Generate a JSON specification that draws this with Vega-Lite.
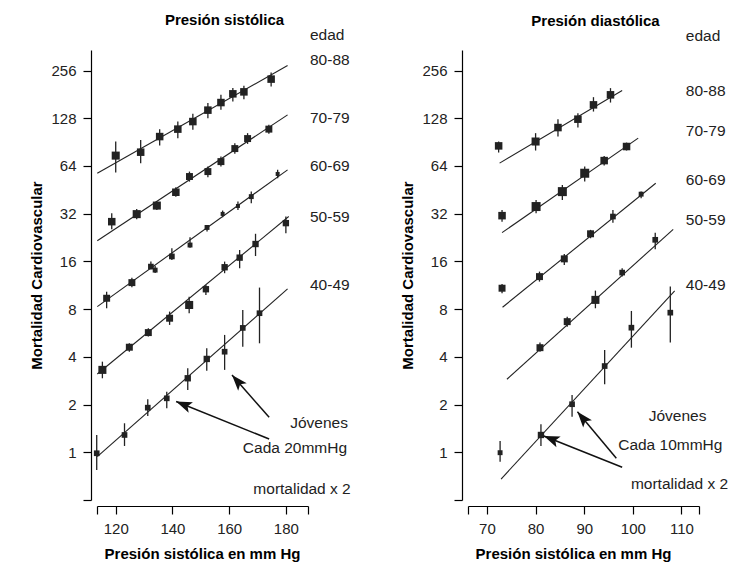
{
  "$schema": "https://vega.github.io/schema/vega-lite/v6.json",
  "padding": {"left": 29, "top": 12, "right": 5, "bottom": 5},
  "bounds": "flush",
  "spacing": 160,
  "background": "white",
  "config": {
    "view": {"stroke": null},
    "font": "Liberation Sans",
    "axis": {
      "grid": false,
      "domainColor": "#000",
      "domainWidth": 1.2,
      "tickColor": "#000",
      "tickWidth": 1.2,
      "tickSize": 8,
      "labelFont": "Liberation Sans",
      "labelFontSize": 15,
      "labelColor": "#222",
      "labelPadding": 7,
      "labelFlush": false,
      "labelOverlap": false,
      "titleFont": "Liberation Sans",
      "titleFontSize": 15,
      "titleFontWeight": "bold",
      "titleColor": "#000"
    },
    "title": {"font": "Liberation Sans", "fontSize": 15, "fontWeight": "bold", "color": "#000"}
  },
  "datasets": {
    "puntos": [
      {"panel": "sis", "edad": "80-88", "x": 120.0, "y": 74.4, "lo": 58.2, "hi": 91.3, "peso": 4},
      {"panel": "sis", "edad": "80-88", "x": 128.8, "y": 78.2, "lo": 66.7, "hi": 93.5, "peso": 3.5},
      {"panel": "sis", "edad": "80-88", "x": 135.5, "y": 98.1, "lo": 86.1, "hi": 109.3, "peso": 3.5},
      {"panel": "sis", "edad": "80-88", "x": 141.9, "y": 109.3, "lo": 95.9, "hi": 122, "peso": 3.5},
      {"panel": "sis", "edad": "80-88", "x": 147.2, "y": 122, "lo": 108.2, "hi": 136.5, "peso": 3.5},
      {"panel": "sis", "edad": "80-88", "x": 152.5, "y": 144, "lo": 128.2, "hi": 159.5, "peso": 3.5},
      {"panel": "sis", "edad": "80-88", "x": 157.1, "y": 160.8, "lo": 144.6, "hi": 179.9, "peso": 3.5},
      {"panel": "sis", "edad": "80-88", "x": 161.3, "y": 182.5, "lo": 163.2, "hi": 198.3, "peso": 3.5},
      {"panel": "sis", "edad": "80-88", "x": 165.2, "y": 187.8, "lo": 169, "hi": 205, "peso": 3.5},
      {"panel": "sis", "edad": "80-88", "x": 174.8, "y": 226, "lo": 202.9, "hi": 248.7, "peso": 3.5},
      {"panel": "sis", "edad": "70-79", "x": 118.6, "y": 28.5, "lo": 25.5, "hi": 32.2, "peso": 3.5},
      {"panel": "sis", "edad": "70-79", "x": 127.4, "y": 31.8, "lo": 29.5, "hi": 34.2, "peso": 4},
      {"panel": "sis", "edad": "70-79", "x": 134.5, "y": 36.0, "lo": 33.8, "hi": 38.2, "peso": 4},
      {"panel": "sis", "edad": "70-79", "x": 141.2, "y": 43.7, "lo": 41.0, "hi": 47.0, "peso": 3.5},
      {"panel": "sis", "edad": "70-79", "x": 146.0, "y": 54.9, "lo": 51.0, "hi": 59.0, "peso": 3},
      {"panel": "sis", "edad": "70-79", "x": 152.5, "y": 59.0, "lo": 54.4, "hi": 63.4, "peso": 3},
      {"panel": "sis", "edad": "70-79", "x": 157.1, "y": 68.2, "lo": 63.4, "hi": 73.4, "peso": 3},
      {"panel": "sis", "edad": "70-79", "x": 162.0, "y": 82.4, "lo": 76.3, "hi": 89.1, "peso": 3},
      {"panel": "sis", "edad": "70-79", "x": 166.5, "y": 95.3, "lo": 88.2, "hi": 103.1, "peso": 3},
      {"panel": "sis", "edad": "70-79", "x": 174.0, "y": 109.3, "lo": 102.1, "hi": 116.3, "peso": 3},
      {"panel": "sis", "edad": "60-69", "x": 116.8, "y": 9.37, "lo": 8.1, "hi": 10.3, "peso": 3},
      {"panel": "sis", "edad": "60-69", "x": 125.7, "y": 11.76, "lo": 11.0, "hi": 12.6, "peso": 3},
      {"panel": "sis", "edad": "60-69", "x": 132.4, "y": 14.84, "lo": 14.3, "hi": 15.96, "peso": 2},
      {"panel": "sis", "edad": "60-69", "x": 133.9, "y": 14.1, "lo": 13.5, "hi": 15.0, "peso": 1.5},
      {"panel": "sis", "edad": "60-69", "x": 139.8, "y": 17.2, "lo": 16.35, "hi": 19.4, "peso": 2},
      {"panel": "sis", "edad": "60-69", "x": 146.2, "y": 20.3, "lo": 19.5, "hi": 22.7, "peso": 1.5},
      {"panel": "sis", "edad": "60-69", "x": 152.2, "y": 26.2, "lo": 24.7, "hi": 27.2, "peso": 1.5},
      {"panel": "sis", "edad": "60-69", "x": 157.7, "y": 31.9, "lo": 30.4, "hi": 33.5, "peso": 1},
      {"panel": "sis", "edad": "60-69", "x": 163.1, "y": 35.8, "lo": 33.8, "hi": 38.2, "peso": 1},
      {"panel": "sis", "edad": "60-69", "x": 167.8, "y": 41.0, "lo": 37.3, "hi": 44.1, "peso": 1.5},
      {"panel": "sis", "edad": "60-69", "x": 177.1, "y": 57.0, "lo": 53.6, "hi": 60.5, "peso": 1},
      {"panel": "sis", "edad": "50-59", "x": 115.3, "y": 3.31, "lo": 2.93, "hi": 3.73, "peso": 4},
      {"panel": "sis", "edad": "50-59", "x": 124.8, "y": 4.60, "lo": 4.31, "hi": 4.87, "peso": 3},
      {"panel": "sis", "edad": "50-59", "x": 131.5, "y": 5.69, "lo": 5.37, "hi": 6.06, "peso": 3},
      {"panel": "sis", "edad": "50-59", "x": 139.0, "y": 7.01, "lo": 6.36, "hi": 7.72, "peso": 3},
      {"panel": "sis", "edad": "50-59", "x": 145.9, "y": 8.50, "lo": 7.54, "hi": 9.59, "peso": 4},
      {"panel": "sis", "edad": "50-59", "x": 151.8, "y": 10.68, "lo": 9.84, "hi": 11.37, "peso": 2.5},
      {"panel": "sis", "edad": "50-59", "x": 158.4, "y": 14.7, "lo": 13.48, "hi": 15.96, "peso": 2.5},
      {"panel": "sis", "edad": "50-59", "x": 163.7, "y": 16.9, "lo": 14.5, "hi": 18.9, "peso": 2.5},
      {"panel": "sis", "edad": "50-59", "x": 169.3, "y": 20.6, "lo": 17.3, "hi": 23.9, "peso": 2.5},
      {"panel": "sis", "edad": "50-59", "x": 180.0, "y": 27.9, "lo": 24.1, "hi": 30.7, "peso": 2.5},
      {"panel": "sis", "edad": "40-49", "x": 113.3, "y": 0.986, "lo": 0.773, "hi": 1.286, "peso": 2},
      {"panel": "sis", "edad": "40-49", "x": 123.1, "y": 1.286, "lo": 1.096, "hi": 1.524, "peso": 2},
      {"panel": "sis", "edad": "40-49", "x": 131.3, "y": 1.912, "lo": 1.695, "hi": 2.16, "peso": 2},
      {"panel": "sis", "edad": "40-49", "x": 138.0, "y": 2.19, "lo": 1.895, "hi": 2.41, "peso": 2},
      {"panel": "sis", "edad": "40-49", "x": 145.4, "y": 2.93, "lo": 2.47, "hi": 3.39, "peso": 2.5},
      {"panel": "sis", "edad": "40-49", "x": 152.1, "y": 3.88, "lo": 3.27, "hi": 4.53, "peso": 2.5},
      {"panel": "sis", "edad": "40-49", "x": 158.4, "y": 4.31, "lo": 3.31, "hi": 5.50, "peso": 2},
      {"panel": "sis", "edad": "40-49", "x": 164.8, "y": 6.09, "lo": 4.64, "hi": 7.91, "peso": 2},
      {"panel": "sis", "edad": "40-49", "x": 170.7, "y": 7.54, "lo": 4.87, "hi": 10.94, "peso": 2},
      {"panel": "dia", "edad": "80-88", "x": 72.4, "y": 85.7, "lo": 77.8, "hi": 91.3, "peso": 3.5},
      {"panel": "dia", "edad": "80-88", "x": 80.0, "y": 91.3, "lo": 80.1, "hi": 103.1, "peso": 4},
      {"panel": "dia", "edad": "80-88", "x": 84.6, "y": 111.8, "lo": 98.1, "hi": 126.3, "peso": 3.5},
      {"panel": "dia", "edad": "80-88", "x": 88.7, "y": 126.3, "lo": 111.8, "hi": 137.9, "peso": 3.5},
      {"panel": "dia", "edad": "80-88", "x": 91.9, "y": 155.5, "lo": 141.1, "hi": 173.9, "peso": 3.5},
      {"panel": "dia", "edad": "80-88", "x": 95.4, "y": 179.9, "lo": 160.8, "hi": 198.3, "peso": 3.5},
      {"panel": "dia", "edad": "70-79", "x": 73.1, "y": 31.1, "lo": 28.5, "hi": 33.8, "peso": 3.5},
      {"panel": "dia", "edad": "70-79", "x": 80.1, "y": 35.5, "lo": 32.2, "hi": 39.1, "peso": 5},
      {"panel": "dia", "edad": "70-79", "x": 85.5, "y": 44.1, "lo": 39.1, "hi": 48.6, "peso": 5},
      {"panel": "dia", "edad": "70-79", "x": 90.1, "y": 57.6, "lo": 51.0, "hi": 63.4, "peso": 5},
      {"panel": "dia", "edad": "70-79", "x": 94.1, "y": 69.2, "lo": 64.4, "hi": 74.1, "peso": 3.5},
      {"panel": "dia", "edad": "70-79", "x": 98.7, "y": 84.9, "lo": 80.1, "hi": 89.9, "peso": 3.5},
      {"panel": "dia", "edad": "60-69", "x": 73.1, "y": 10.84, "lo": 10.08, "hi": 11.54, "peso": 3},
      {"panel": "dia", "edad": "60-69", "x": 80.8, "y": 12.83, "lo": 11.93, "hi": 13.8, "peso": 3},
      {"panel": "dia", "edad": "60-69", "x": 85.9, "y": 16.6, "lo": 15.2, "hi": 17.84, "peso": 3},
      {"panel": "dia", "edad": "60-69", "x": 91.3, "y": 23.9, "lo": 22.4, "hi": 25.3, "peso": 3},
      {"panel": "dia", "edad": "60-69", "x": 95.9, "y": 30.7, "lo": 28.1, "hi": 33.8, "peso": 2},
      {"panel": "dia", "edad": "60-69", "x": 101.7, "y": 42.5, "lo": 40.1, "hi": 44.1, "peso": 1.5},
      {"panel": "dia", "edad": "50-59", "x": 80.9, "y": 4.57, "lo": 4.31, "hi": 4.92, "peso": 3},
      {"panel": "dia", "edad": "50-59", "x": 86.5, "y": 6.67, "lo": 6.20, "hi": 7.17, "peso": 3},
      {"panel": "dia", "edad": "50-59", "x": 92.3, "y": 9.15, "lo": 8.1, "hi": 10.47, "peso": 4},
      {"panel": "dia", "edad": "50-59", "x": 97.8, "y": 13.6, "lo": 12.83, "hi": 14.5, "peso": 2},
      {"panel": "dia", "edad": "50-59", "x": 104.6, "y": 21.9, "lo": 19.1, "hi": 24.3, "peso": 2},
      {"panel": "dia", "edad": "40-49", "x": 72.7, "y": 0.994, "lo": 0.872, "hi": 1.178, "peso": 1.5},
      {"panel": "dia", "edad": "40-49", "x": 81.1, "y": 1.286, "lo": 1.096, "hi": 1.502, "peso": 2.5},
      {"panel": "dia", "edad": "40-49", "x": 87.5, "y": 2.01, "lo": 1.677, "hi": 2.30, "peso": 2},
      {"panel": "dia", "edad": "40-49", "x": 94.2, "y": 3.50, "lo": 2.69, "hi": 4.42, "peso": 2},
      {"panel": "dia", "edad": "40-49", "x": 99.7, "y": 6.11, "lo": 4.57, "hi": 7.79, "peso": 2},
      {"panel": "dia", "edad": "40-49", "x": 107.7, "y": 7.60, "lo": 4.92, "hi": 11.1, "peso": 2}
    ],
    "rectas": [
      {"panel": "sis", "edad": "80-88", "x": 113.5, "y": 57.6},
      {"panel": "sis", "edad": "80-88", "x": 180.6, "y": 275.2},
      {"panel": "sis", "edad": "70-79", "x": 113.5, "y": 21.6},
      {"panel": "sis", "edad": "70-79", "x": 180.6, "y": 134.5},
      {"panel": "sis", "edad": "60-69", "x": 113.5, "y": 8.3},
      {"panel": "sis", "edad": "60-69", "x": 180.6, "y": 60.5},
      {"panel": "sis", "edad": "50-59", "x": 113.5, "y": 3.12},
      {"panel": "sis", "edad": "50-59", "x": 181.0, "y": 30.7},
      {"panel": "sis", "edad": "40-49", "x": 113.5, "y": 0.938},
      {"panel": "sis", "edad": "40-49", "x": 180.6, "y": 10.73},
      {"panel": "dia", "edad": "80-88", "x": 72.6, "y": 66.7},
      {"panel": "dia", "edad": "80-88", "x": 97.8, "y": 191.5},
      {"panel": "dia", "edad": "70-79", "x": 73.1, "y": 24.3},
      {"panel": "dia", "edad": "70-79", "x": 101.1, "y": 95.9},
      {"panel": "dia", "edad": "60-69", "x": 73.2, "y": 8.22},
      {"panel": "dia", "edad": "60-69", "x": 104.7, "y": 49.8},
      {"panel": "dia", "edad": "50-59", "x": 74.1, "y": 2.89},
      {"panel": "dia", "edad": "50-59", "x": 108.3, "y": 25.5},
      {"panel": "dia", "edad": "40-49", "x": 72.9, "y": 0.678},
      {"panel": "dia", "edad": "40-49", "x": 108.6, "y": 10.42}
    ],
    "etiquetas": [
      {"panel": "sis", "x": 188.5, "y": 430, "texto": "edad"},
      {"panel": "sis", "x": 188.5, "y": 297.8, "texto": "80-88"},
      {"panel": "sis", "x": 188.5, "y": 128.2, "texto": "70-79"},
      {"panel": "sis", "x": 188.5, "y": 64.1, "texto": "60-69"},
      {"panel": "sis", "x": 188.5, "y": 30.3, "texto": "50-59"},
      {"panel": "sis", "x": 188.5, "y": 11.4, "texto": "40-49"},
      {"panel": "dia", "x": 110.9, "y": 424, "texto": "edad"},
      {"panel": "dia", "x": 110.9, "y": 189.2, "texto": "80-88"},
      {"panel": "dia", "x": 110.9, "y": 105.8, "texto": "70-79"},
      {"panel": "dia", "x": 110.9, "y": 52.3, "texto": "60-69"},
      {"panel": "dia", "x": 110.9, "y": 29.2, "texto": "50-59"},
      {"panel": "dia", "x": 110.9, "y": 11.4, "texto": "40-49"}
    ],
    "notas": [
      {"panel": "sis", "x": 191.7, "y": 1.53, "texto": "Jóvenes"},
      {"panel": "sis", "x": 183.2, "y": 1.069, "texto": "Cada 20mmHg"},
      {"panel": "sis", "x": 185.7, "y": 0.587, "texto": "mortalidad x 2"},
      {"panel": "dia", "x": 109.2, "y": 1.695, "texto": "Jóvenes"},
      {"panel": "dia", "x": 107.7, "y": 1.104, "texto": "Cada 10mmHg"},
      {"panel": "dia", "x": 109.6, "y": 0.631, "texto": "mortalidad x 2"}
    ],
    "flechas": [
      {"panel": "sis", "id": "a1", "xs": 174.1, "ys": 1.663, "x": 161.0, "y": 3.07},
      {"panel": "sis", "id": "a2", "xs": 174.1, "ys": 1.213, "x": 141.3, "y": 2.09},
      {"panel": "dia", "id": "a1", "xs": 96.6, "ys": 0.917, "x": 88.6, "y": 1.80},
      {"panel": "dia", "id": "a2", "xs": 97.8, "ys": 0.804, "x": 81.7, "y": 1.267}
    ]
  },
  "hconcat": [
    {
      "width": 211,
      "height": 450,
      "title": {"text": "Presión sistólica", "anchor": "middle", "frame": "group", "dx": 22, "offset": 0},
      "resolve": {"axis": {"x": "independent"}},
      "layer": [
        {
          "data": {"name": "rectas"},
          "transform": [{"filter": "datum.panel === 'sis'"}],
          "mark": {"type": "line", "color": "#222", "strokeWidth": 1.1, "clip": false},
          "encoding": {
            "x": {"field": "x", "type": "quantitative", "title": "Presión sistólica en mm Hg",
              "scale": {"domain": [113.4, 187.8], "nice": false, "zero": false},
              "axis": {"orient": "bottom", "offset": 6, "values": [120, 140, 160, 180], "labelOverlap": false, "titleX": 105, "titleY": 40, "titleAlign": "center", "titleBaseline": "top"}},
            "y": {"field": "y", "type": "quantitative", "title": "Mortalidad Cardiovascular",
              "scale": {"type": "log", "base": 2, "domain": [0.5, 345], "nice": false},
              "axis": {"offset": 6, "values": [0.5, 1, 2, 4, 8, 16, 32, 64, 128, 256], "labelOverlap": false, "format": "d", "labelExpr": "datum.value >= 1 ? datum.label : ''", "titlePadding": 6}},
            "detail": {"field": "edad"}
          }
        },
        {
          "data": {"name": "puntos"},
          "transform": [{"filter": "datum.panel === 'sis'"}],
          "mark": {"type": "rule", "color": "#222", "strokeWidth": 1.3},
          "encoding": {
            "x": {"field": "x", "type": "quantitative", "title": null,
              "axis": {"orient": "bottom", "offset": 6, "values": [113.4, 187.8], "labels": false, "domain": false, "title": null}},
            "y": {"field": "lo", "type": "quantitative", "title": "Mortalidad Cardiovascular"},
            "y2": {"field": "hi"}
          }
        },
        {
          "data": {"name": "puntos"},
          "transform": [{"filter": "datum.panel === 'sis'"}],
          "mark": {"type": "point", "shape": "square", "filled": true, "color": "#222", "opacity": 1},
          "encoding": {
            "x": {"field": "x", "type": "quantitative", "axis": null},
            "y": {"field": "y", "type": "quantitative", "title": "Mortalidad Cardiovascular"},
            "size": {"field": "peso", "type": "quantitative", "legend": null, "scale": {"domain": [1, 5], "range": [16, 81], "zero": false}}
          }
        },
        {
          "data": {"name": "etiquetas"},
          "transform": [{"filter": "datum.panel === 'sis'"}],
          "mark": {"type": "text", "align": "left", "baseline": "middle", "fontSize": 15.5, "color": "#222"},
          "encoding": {
            "x": {"field": "x", "type": "quantitative", "axis": null},
            "y": {"field": "y", "type": "quantitative", "title": "Mortalidad Cardiovascular"},
            "text": {"field": "texto"}
          }
        },
        {
          "data": {"name": "notas"},
          "transform": [{"filter": "datum.panel === 'sis'"}],
          "mark": {"type": "text", "align": "center", "baseline": "middle", "fontSize": 15.5, "color": "#222"},
          "encoding": {
            "x": {"field": "x", "type": "quantitative", "axis": null},
            "y": {"field": "y", "type": "quantitative", "title": "Mortalidad Cardiovascular"},
            "text": {"field": "texto"}
          }
        },
        {
          "data": {"name": "flechas"},
          "transform": [{"filter": "datum.panel === 'sis'"}],
          "mark": {"type": "rule", "color": "#111", "strokeWidth": 1.5},
          "encoding": {
            "x": {"field": "xs", "type": "quantitative", "axis": null},
            "y": {"field": "ys", "type": "quantitative", "title": "Mortalidad Cardiovascular"},
            "x2": {"field": "x"},
            "y2": {"field": "y"}
          }
        },
        {
          "data": {"name": "flechas"},
          "transform": [{"filter": "datum.panel === 'sis' && datum.id === 'a1'"}],
          "mark": {"type": "point", "shape": "M0,0L-0.36,1L0,0.78L0.36,1Z", "filled": true, "color": "#111", "opacity": 1, "size": 1000, "angle": 318.6},
          "encoding": {
            "x": {"field": "x", "type": "quantitative", "axis": null},
            "y": {"field": "y", "type": "quantitative", "title": "Mortalidad Cardiovascular"}
          }
        },
        {
          "data": {"name": "flechas"},
          "transform": [{"filter": "datum.panel === 'sis' && datum.id === 'a2'"}],
          "mark": {"type": "point", "shape": "M0,0L-0.36,1L0,0.78L0.36,1Z", "filled": true, "color": "#111", "opacity": 1, "size": 1000, "angle": 291.9},
          "encoding": {
            "x": {"field": "x", "type": "quantitative", "axis": null},
            "y": {"field": "y", "type": "quantitative", "title": "Mortalidad Cardiovascular"}
          }
        }
      ]
    },
    {
      "width": 231,
      "height": 450,
      "title": {"text": "Presión diastólica", "anchor": "middle", "frame": "group", "dx": 12, "offset": 0},
      "resolve": {"axis": {"x": "independent"}},
      "layer": [
        {
          "data": {"name": "rectas"},
          "transform": [{"filter": "datum.panel === 'dia'"}],
          "mark": {"type": "line", "color": "#222", "strokeWidth": 1.1, "clip": false},
          "encoding": {
            "x": {"field": "x", "type": "quantitative", "title": "Presión sistólica en mm Hg",
              "scale": {"domain": [66.1, 113.6], "nice": false, "zero": false},
              "axis": {"orient": "bottom", "offset": 6, "values": [70, 80, 90, 100, 110], "labelOverlap": false, "titleX": 105, "titleY": 40, "titleAlign": "center", "titleBaseline": "top"}},
            "y": {"field": "y", "type": "quantitative", "title": "Mortalidad Cardiovascular",
              "scale": {"type": "log", "base": 2, "domain": [0.5, 345], "nice": false},
              "axis": {"offset": 6, "values": [0.5, 1, 2, 4, 8, 16, 32, 64, 128, 256], "labelOverlap": false, "format": "d", "labelExpr": "datum.value >= 1 ? datum.label : ''", "titlePadding": 6}},
            "detail": {"field": "edad"}
          }
        },
        {
          "data": {"name": "puntos"},
          "transform": [{"filter": "datum.panel === 'dia'"}],
          "mark": {"type": "rule", "color": "#222", "strokeWidth": 1.3},
          "encoding": {
            "x": {"field": "x", "type": "quantitative", "title": null,
              "axis": {"orient": "bottom", "offset": 6, "values": [66.1, 113.6], "labels": false, "domain": false, "title": null}},
            "y": {"field": "lo", "type": "quantitative", "title": "Mortalidad Cardiovascular"},
            "y2": {"field": "hi"}
          }
        },
        {
          "data": {"name": "puntos"},
          "transform": [{"filter": "datum.panel === 'dia'"}],
          "mark": {"type": "point", "shape": "square", "filled": true, "color": "#222", "opacity": 1},
          "encoding": {
            "x": {"field": "x", "type": "quantitative", "axis": null},
            "y": {"field": "y", "type": "quantitative", "title": "Mortalidad Cardiovascular"},
            "size": {"field": "peso", "type": "quantitative", "legend": null, "scale": {"domain": [1, 5], "range": [16, 81], "zero": false}}
          }
        },
        {
          "data": {"name": "etiquetas"},
          "transform": [{"filter": "datum.panel === 'dia'"}],
          "mark": {"type": "text", "align": "left", "baseline": "middle", "fontSize": 15.5, "color": "#222"},
          "encoding": {
            "x": {"field": "x", "type": "quantitative", "axis": null},
            "y": {"field": "y", "type": "quantitative", "title": "Mortalidad Cardiovascular"},
            "text": {"field": "texto"}
          }
        },
        {
          "data": {"name": "notas"},
          "transform": [{"filter": "datum.panel === 'dia'"}],
          "mark": {"type": "text", "align": "center", "baseline": "middle", "fontSize": 15.5, "color": "#222"},
          "encoding": {
            "x": {"field": "x", "type": "quantitative", "axis": null},
            "y": {"field": "y", "type": "quantitative", "title": "Mortalidad Cardiovascular"},
            "text": {"field": "texto"}
          }
        },
        {
          "data": {"name": "flechas"},
          "transform": [{"filter": "datum.panel === 'dia'"}],
          "mark": {"type": "rule", "color": "#111", "strokeWidth": 1.5},
          "encoding": {
            "x": {"field": "xs", "type": "quantitative", "axis": null},
            "y": {"field": "ys", "type": "quantitative", "title": "Mortalidad Cardiovascular"},
            "x2": {"field": "x"},
            "y2": {"field": "y"}
          }
        },
        {
          "data": {"name": "flechas"},
          "transform": [{"filter": "datum.panel === 'dia' && datum.id === 'a1'"}],
          "mark": {"type": "point", "shape": "M0,0L-0.36,1L0,0.78L0.36,1Z", "filled": true, "color": "#111", "opacity": 1, "size": 1000, "angle": 320.1},
          "encoding": {
            "x": {"field": "x", "type": "quantitative", "axis": null},
            "y": {"field": "y", "type": "quantitative", "title": "Mortalidad Cardiovascular"}
          }
        },
        {
          "data": {"name": "flechas"},
          "transform": [{"filter": "datum.panel === 'dia' && datum.id === 'a2'"}],
          "mark": {"type": "point", "shape": "M0,0L-0.36,1L0,0.78L0.36,1Z", "filled": true, "color": "#111", "opacity": 1, "size": 1000, "angle": 291.8},
          "encoding": {
            "x": {"field": "x", "type": "quantitative", "axis": null},
            "y": {"field": "y", "type": "quantitative", "title": "Mortalidad Cardiovascular"}
          }
        }
      ]
    }
  ]
}
